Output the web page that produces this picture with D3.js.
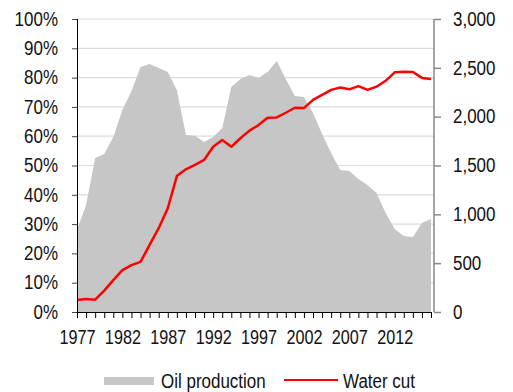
<!DOCTYPE html>
<html>
<head>
<meta charset="utf-8">
<script src="https://cdn.jsdelivr.net/npm/d3@7"></script>
<style>
  html, body { margin: 0; padding: 0; background: #fff; }
  svg { display: block; }
  text { font-family: "Liberation Sans", Arial, sans-serif; fill: #111; }
</style>
</head>
<body>
<svg id="chart" width="513" height="392"></svg>
<script>
// Years 1977–2016
const years = d3.range(1977, 2017);

// Oil production (right axis)
const oilProduction = [
  840, 1096, 1577, 1618, 1792, 2068, 2263, 2509, 2539, 2498,
  2457, 2273, 1812, 1805, 1741, 1792, 1884, 2304, 2386, 2427,
  2396, 2457, 2570, 2386, 2212, 2201, 2038, 1823, 1628, 1454,
  1444, 1362, 1300, 1218, 1014, 850, 778, 768, 911, 952
];

// Water cut, % (left axis)
const waterCut = [
  4.1, 4.4, 4.2, 7.3, 10.9, 14.3, 16.0, 17.1, 22.9, 28.6,
  35.4, 46.4, 48.7, 50.2, 51.9, 56.4, 58.7, 56.4, 59.3, 61.9,
  63.8, 66.3, 66.4, 68.0, 69.7, 69.6, 72.4, 74.1, 75.8, 76.6,
  76.0, 77.1, 75.8, 76.9, 78.9, 81.8, 82.0, 81.9, 79.9, 79.5
];

const leftTicks = d3.range(0, 101, 10);
const rightTicks = d3.range(0, 3001, 500);
const labelYears = years.filter(y => (y - 1977) % 5 === 0);
const legendItems = ["Oil production", "Water cut"];

const svg = d3.select("#chart");
const plot = { left: 77, right: 431, top: 19, bottom: 312, rightAxis: 434 };

const x = d3.scalePoint().domain(years).range([plot.left, plot.right]);
const yLeft = d3.scaleLinear().domain([0, 100]).range([plot.bottom, plot.top]);
const yRight = d3.scaleLinear().domain([0, 3000]).range([plot.bottom, plot.top]);

// Narrow the glyphs a little to get a condensed face
function condense(sel, k = 0.87) {
  sel.each(function () {
    const w = this.getComputedTextLength();
    d3.select(this).attr("textLength", w * k).attr("lengthAdjust", "spacingAndGlyphs");
  });
}
const fontSize = 19.5;

// Horizontal gridlines
svg.append("g")
  .selectAll("line")
  .data(leftTicks.filter(t => t > 0))
  .join("line")
  .attr("x1", plot.left).attr("x2", plot.rightAxis)
  .attr("y1", d => yLeft(d)).attr("y2", d => yLeft(d))
  .attr("stroke", "#dcdcdc").attr("stroke-width", 1.2);

// Oil production area
const area = d3.area()
  .x((d, i) => x(years[i]))
  .y0(plot.bottom)
  .y1(d => yRight(d));
svg.append("path")
  .datum(oilProduction)
  .attr("d", area)
  .attr("fill", "#c6c6c6");

// Water cut line
const line = d3.line()
  .x((d, i) => x(years[i]))
  .y(d => yLeft(d));
svg.append("path")
  .datum(waterCut)
  .attr("d", line)
  .attr("fill", "none")
  .attr("stroke", "#ff0000")
  .attr("stroke-width", 2.5)
  .attr("stroke-linejoin", "round");

// Left axis
const gL = svg.append("g").attr("transform", `translate(${plot.left},0)`)
  .call(d3.axisLeft(yLeft).tickValues(leftTicks).tickFormat(d => d + "%").tickSize(5).tickPadding(14));
gL.select(".domain").attr("stroke", "#000").attr("d", `M0.5,${plot.top}V${plot.bottom}`);
gL.selectAll(".tick line").attr("stroke", "#444");
gL.selectAll("text").attr("font-size", fontSize).attr("font-family", null).attr("fill", "#111").call(condense);

// Right axis
const gR = svg.append("g").attr("transform", `translate(${plot.rightAxis},0)`)
  .call(d3.axisRight(yRight).tickValues(rightTicks).tickFormat(d3.format(",")).tickSize(7).tickPadding(12));
gR.select(".domain").attr("stroke", "#888").attr("stroke-width", 1.5).attr("d", `M0,${plot.top}V${plot.bottom}`);
gR.selectAll(".tick line").attr("stroke", "#888").attr("stroke-width", 1.5);
gR.selectAll("text").attr("font-size", fontSize).attr("font-family", null).attr("fill", "#111").call(condense);

// Bottom axis
const gB = svg.append("g").attr("transform", `translate(0,${plot.bottom})`)
  .call(d3.axisBottom(x).tickValues(years).tickSize(6).tickPadding(5)
    .tickFormat(d => labelYears.includes(d) ? d : ""));
gB.select(".domain").attr("stroke", "#000").attr("d", `M${plot.left},0.5H${plot.right + 1}`);
gB.selectAll(".tick line").attr("stroke", "#000");
gB.selectAll("text").attr("font-size", 20).attr("font-family", null).attr("fill", "#111")
  .attr("dy", "1.05em").call(condense, 0.81);

// Legend
const lg = svg.append("g");
lg.append("rect").attr("x", 104).attr("y", 377).attr("width", 50).attr("height", 8).attr("fill", "#c6c6c6");
lg.append("text").attr("x", 161).attr("y", 388).attr("font-size", fontSize).text(legendItems[0]).call(condense);
lg.append("line").attr("x1", 284).attr("x2", 338).attr("y1", 380).attr("y2", 380)
  .attr("stroke", "#ff0000").attr("stroke-width", 2);
lg.append("text").attr("x", 343).attr("y", 388).attr("font-size", fontSize).text(legendItems[1]).call(condense);
</script>
</body>
</html>
